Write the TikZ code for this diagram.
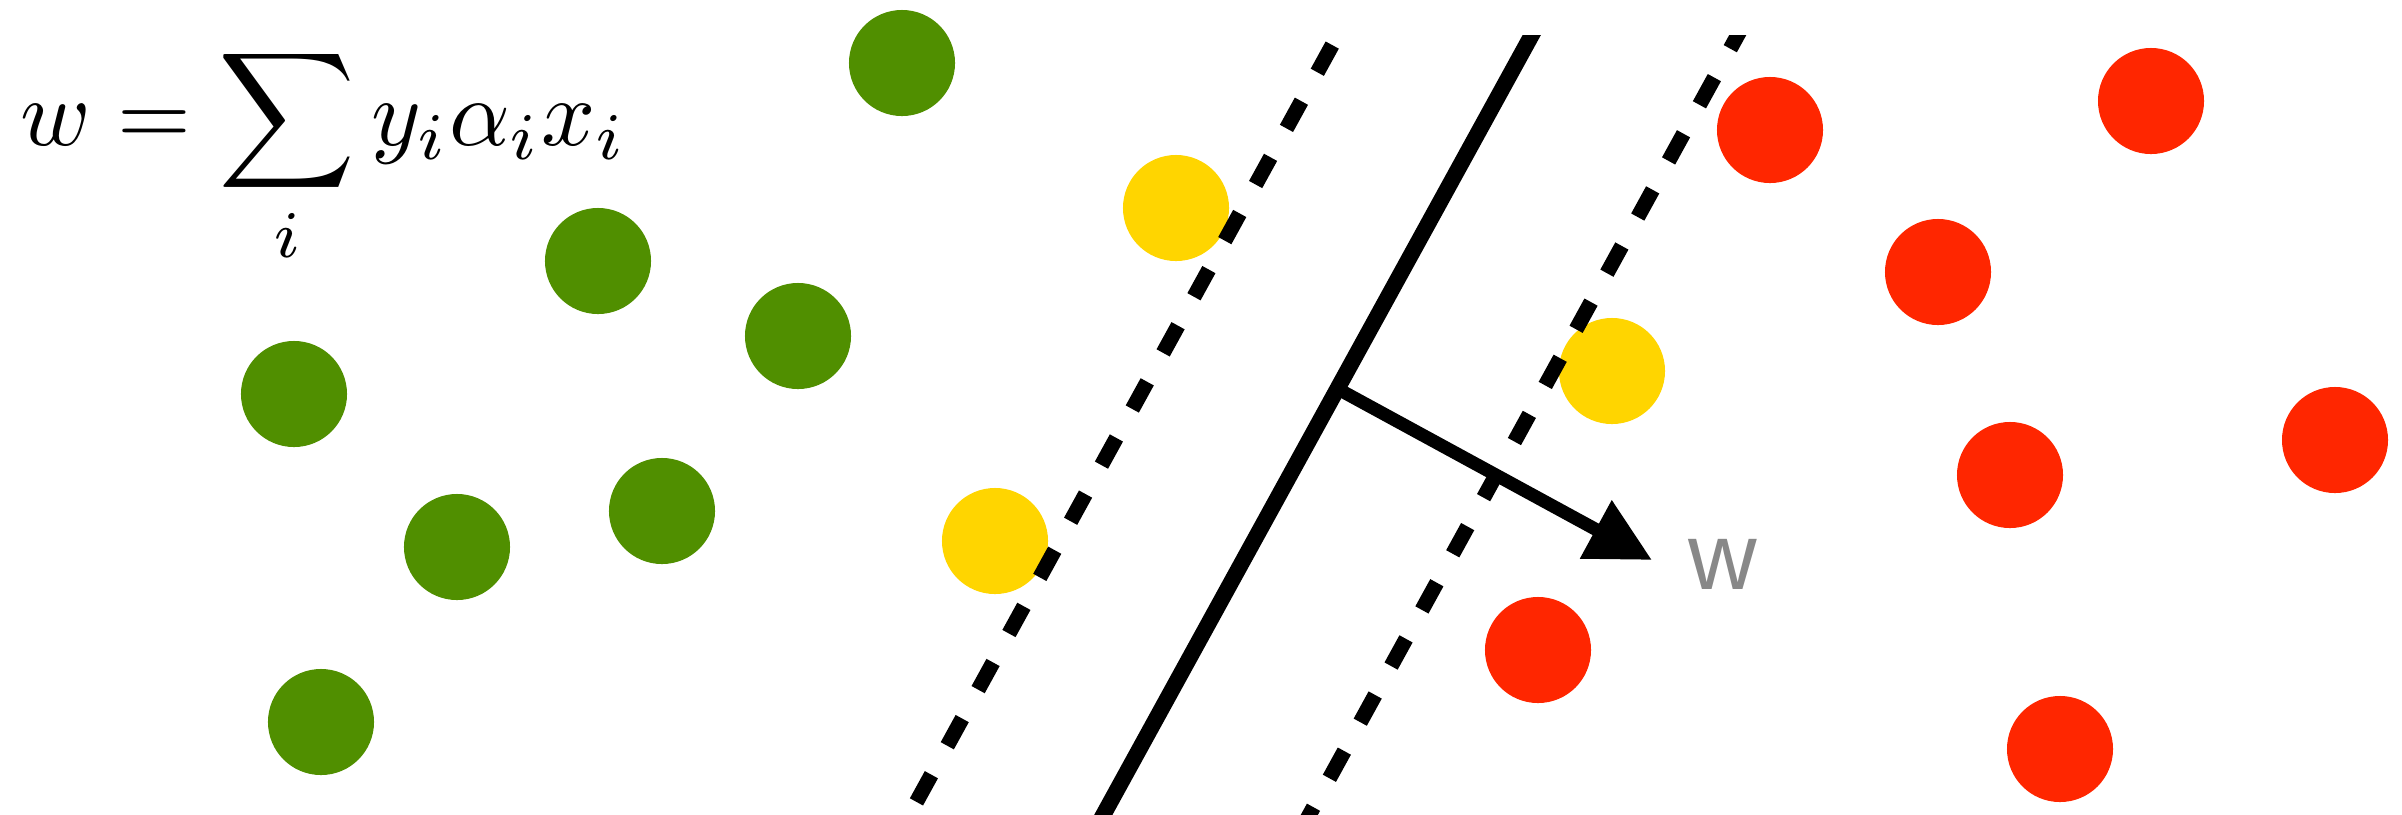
\documentclass[tikz,border=0pt]{standalone}
\usepackage{amsmath}
\usepackage{fontspec}
\usepackage{tikz}
\usetikzlibrary{arrows.meta}
\newfontfamily\labelfont{Liberation Sans}
\definecolor{classpos}{RGB}{80, 143, 0}
\definecolor{support}{RGB}{255, 213, 0}
\definecolor{classneg}{RGB}{255, 38, 0}
\definecolor{labelgray}{RGB}{136, 136, 136}

\begin{document}
\begin{tikzpicture}[
    x=0.01cm, y=-0.01cm,
    pointnode/.style={circle, draw=none, inner sep=0pt, minimum size=1.06cm},
    greenpt/.style={pointnode, fill=classpos},
    supportpt/.style={pointnode, fill=support},
    redpt/.style={pointnode, fill=classneg},
    hyperplane/.style={line width=0.16cm, draw=black},
    marginline/.style={line width=0.15cm, draw=black, dash pattern=on 0.31cm off 0.33cm},
    normalarrow/.style={-{Triangle[length=0.64cm, width=0.63cm]}, line width=0.13cm, draw=black},
    formula/.style={inner sep=0pt, scale=2.7, anchor=base west},
    wlabel/.style={inner sep=0pt, text=labelgray, font=\labelfont\fontsize{27}{32}\selectfont}
]
    \useasboundingbox (0,0) rectangle (2402,814);

    % Points
    \node[greenpt] (g1) at (902,63) {};
    \node[greenpt] (g2) at (598,261) {};
    \node[greenpt] (g3) at (798,336) {};
    \node[greenpt] (g4) at (294,394) {};
    \node[greenpt] (g5) at (662,511) {};
    \node[greenpt] (g6) at (457,547) {};
    \node[greenpt] (g7) at (321,722) {};

    \node[supportpt] (s1) at (1176,208) {};
    \node[supportpt] (s2) at (995,541) {};
    \node[supportpt] (s3) at (1612,371) {};

    \node[redpt] (r1) at (1770,130) {};
    \node[redpt] (r2) at (2151,101) {};
    \node[redpt] (r3) at (1938,272) {};
    \node[redpt] (r4) at (2335,440) {};
    \node[redpt] (r5) at (2010,475) {};
    \node[redpt] (r6) at (1538,650) {};
    \node[redpt] (r7) at (2060,749) {};

    % Formula
    \node[formula] (weights) at (19,145) {$\displaystyle w = \sum_i y_i \alpha_i x_i$};

    % Hyperplane and margins
    \coordinate (hyptop) at (1551,0);
    \coordinate (hypbot) at (1084,850);
    \coordinate (lmtop) at (1357,0);
    \coordinate (lmbot) at (890,850);
    \coordinate (rmtop) at (1757,0);
    \coordinate (rmbot) at (1290,850);
    \begin{scope}
        \clip (0,35) rectangle (2402,814);
        \draw[hyperplane] (hyptop) -- (hypbot);
        \draw[marginline, dash phase=0.126cm] (lmtop) -- (lmbot);
        \draw[marginline, dash phase=0.395cm] (rmtop) -- (rmbot);
    \end{scope}

    % Normal vector
    \coordinate (wstart) at (1338,389);
    \coordinate (wtip) at (1652,560);
    \draw[normalarrow] (wstart) -- (wtip);
    \node[wlabel] (wtext) at (1723,564) {w};
\end{tikzpicture}
\end{document}
